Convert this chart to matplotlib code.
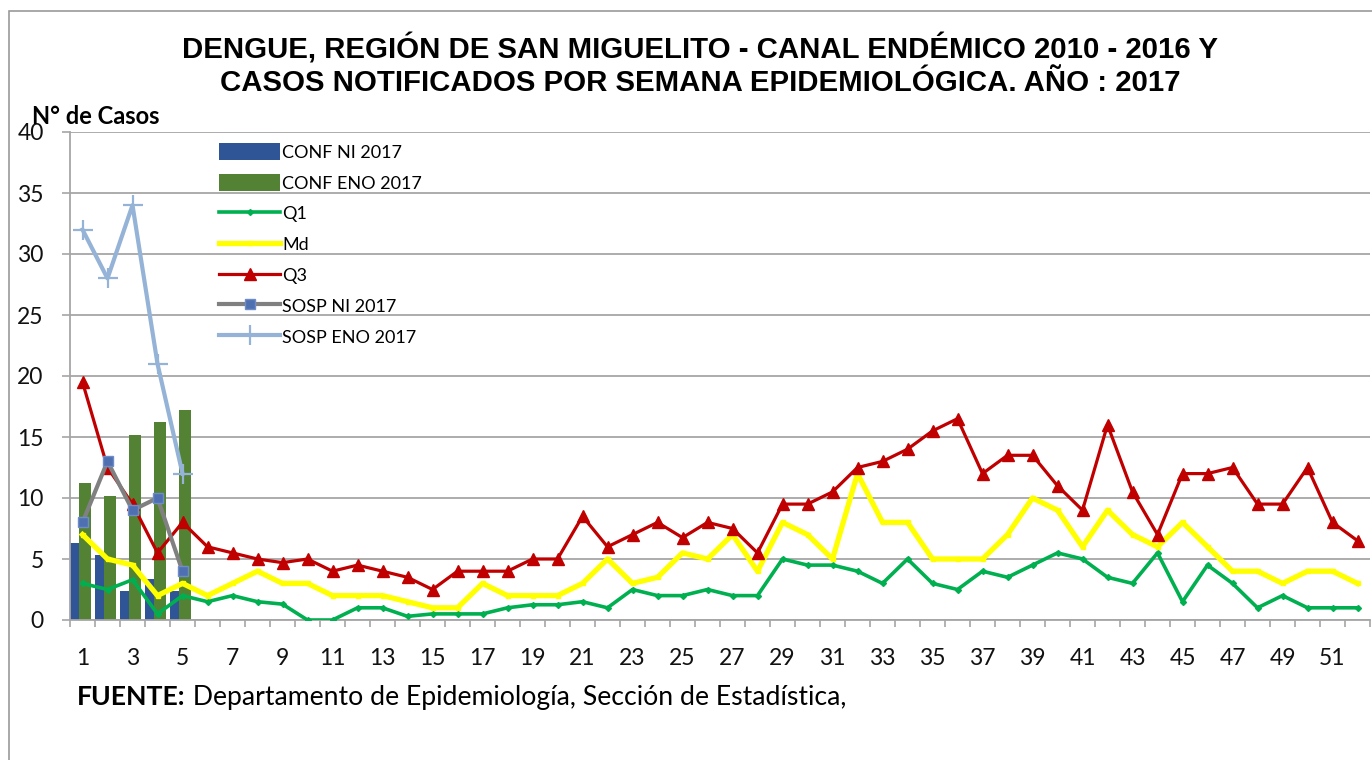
import matplotlib
matplotlib.use("Agg")
import matplotlib.pyplot as plt
import numpy as np

# semanas epidemiologicas
weeks = list(range(1, 53))

# casos 2017 (solo semanas 1-5)
conf_ni = [6.3, 5.3, 2.4, 3.4, 2.4]
conf_eno = [11.2, 10.2, 15.2, 16.2, 17.2]
sosp_ni = [8, 13, 9, 10, 4]
sosp_eno = [32, 28, 34, 21, 12]

# canal endemico 2010 - 2016
q1 = [3, 2.5, 3.3, 0.5, 2, 1.5, 2, 1.5, 1.3, 0, 0, 1, 1, 0.3, 0.5, 0.5, 0.5, 1, 1.25, 1.25,
      1.5, 1, 2.5, 2, 2, 2.5, 2, 2, 5, 4.5, 4.5, 4, 3, 5, 3, 2.5, 4, 3.5, 4.5, 5.5,
      5, 3.5, 3, 5.5, 1.5, 4.5, 3, 1, 2, 1, 1, 1]
md = [7, 5, 4.5, 2, 3, 2, 3, 4, 3, 3, 2, 2, 2, 1.5, 1, 1, 3, 2, 2, 2,
      3, 5, 3, 3.5, 5.5, 5, 7, 4, 8, 7, 5, 12, 8, 8, 5, 5, 5, 7, 10, 9,
      6, 9, 7, 6, 8, 6, 4, 4, 3, 4, 4, 3]
q3 = [19.5, 12.5, 9.5, 5.5, 8, 6, 5.5, 5, 4.7, 5, 4, 4.5, 4, 3.5, 2.5, 4, 4, 4, 5, 5,
      8.5, 6, 7, 8, 6.75, 8, 7.5, 5.5, 9.5, 9.5, 10.5, 12.5, 13, 14, 15.5, 16.5, 12, 13.5, 13.5, 11,
      9, 16, 10.5, 7, 12, 12, 12.5, 9.5, 9.5, 12.5, 8, 6.5]

title_1 = "DENGUE, REGIÓN DE SAN MIGUELITO - CANAL ENDÉMICO 2010 - 2016 Y"
title_2 = "CASOS NOTIFICADOS POR SEMANA EPIDEMIOLÓGICA. AÑO : 2017"

W, H = 1372, 760
fig = plt.figure(figsize=(W / 100, H / 100), dpi=100)
ax = fig.add_axes([70 / W, 1 - 620 / H, 1300 / W, 488 / H])

# marco del grafico
fig.add_artist(plt.Rectangle((9 / W, -0.1), 1.2, 1 - 11 / H + 0.1, transform=fig.transFigure,
                             fill=False, edgecolor="#9a9a9a", linewidth=1.2))

wk5 = np.array(weeks[:5])
b1 = ax.bar(wk5 - 0.27, conf_ni, width=0.46, color="#2F5597", label="CONF NI 2017", zorder=2)
b2 = ax.bar(wk5 + 0.11, conf_eno, width=0.47, color="#548235", label="CONF ENO 2017", zorder=2)

l1, = ax.plot(weeks, q1, color="#00B050", lw=2.6, marker="D", ms=3, label="Q1", zorder=3)
l2, = ax.plot(weeks, md, color="#FFFF00", lw=3.8, marker="s", ms=3.5, label="Md", zorder=3)
l3, = ax.plot(weeks, q3, color="#C00000", lw=2.3, marker="^", ms=9, label="Q3", zorder=4)
l4, = ax.plot(wk5, sosp_ni, color="#808080", lw=3, marker="s", ms=7, mfc="#4F70B0",
              mec="#6E8CC8", label="SOSP NI 2017", zorder=5)
l5, = ax.plot(wk5, sosp_eno, color="#95B3D7", lw=3, marker="+", ms=14, mew=1.6,
              label="SOSP ENO 2017", zorder=5)

ax.set_xlim(0.5, 52.5)
ax.set_ylim(0, 40)
ax.set_yticks(range(0, 41, 5))
ax.set_xticks(weeks[::2])
ax.set_xticks(np.arange(0.5, 53, 1), minor=True)
ax.grid(axis="y", color="#a6a6a6", lw=1.3, zorder=0)
ax.set_axisbelow(True)
for s in ["top", "right"]:
    ax.spines[s].set_visible(False)
for s in ["left", "bottom"]:
    ax.spines[s].set_color("#a6a6a6")
    ax.spines[s].set_linewidth(1.3)
ax.tick_params(axis="x", which="major", length=0, pad=20, labelsize=16.5, labelcolor="#111111")
ax.tick_params(axis="x", which="minor", length=5, color="#a6a6a6", width=1.2)
ax.tick_params(axis="y", length=6, color="#a6a6a6", width=1.2, pad=13, labelsize=16.5,
               labelcolor="#111111")
for lab in ax.get_xticklabels() + ax.get_yticklabels():
    lab.set_family("Lato")

handles = [b1, b2, l1, l2, l3, l4, l5]
labels = [h.get_label() for h in handles]
leg = ax.legend(handles, labels, loc="upper left", bbox_to_anchor=(210 / W, 1 - 134 / H),
                bbox_transform=fig.transFigure, frameon=False,
                prop={"family": "Lato", "size": 13}, handlelength=3.4, handleheight=1.1,
                handletextpad=0.1, labelspacing=0.72, borderpad=0)

fig.text(700 / W, 1 - 49 / H, title_1, ha="center", va="center", fontsize=21.2,
         fontweight="bold", family="Liberation Sans")
fig.text(700 / W, 1 - 83 / H, title_2, ha="center", va="center", fontsize=21.2,
         fontweight="bold", family="Liberation Sans")
fig.text(32 / W, 1 - 116 / H, "N° de Casos", ha="left", va="center", fontsize=17,
         fontweight="bold", family="Lato")

t = fig.text(77 / W, 1 - 697 / H, "FUENTE:", ha="left", va="center", fontsize=19.2,
             fontweight="bold", family="Lato")
ax.annotate(" Departamento de Epidemiología, Sección de Estadística,", xy=(1, 0.5),
            xycoords=t, ha="left", va="center", fontsize=19.2, family="Lato",
            annotation_clip=False)

fig.savefig("out.png", dpi=100)
